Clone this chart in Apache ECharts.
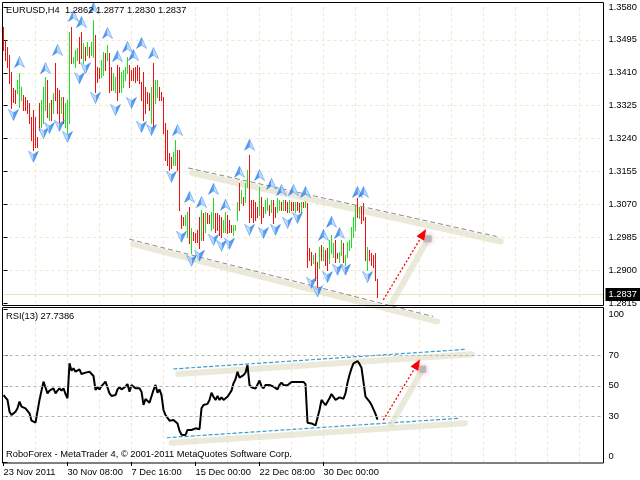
<!DOCTYPE html>
<html>
<head>
<meta charset="utf-8">
<script src="https://cdn.jsdelivr.net/npm/echarts@6.0.0/dist/echarts.min.js"></script>
<style>
html,body{margin:0;padding:0;background:#fff;}
#chart{width:640px;height:480px;}
</style>
</head>
<body>
<div id="chart"></div>
<script>
const symbolName = 'EURUSD,H4';
const quote = [1.2862, 1.2877, 1.2830, 1.2837];
const timeLabels = ['23 Nov 2011', '30 Nov 08:00', '7 Dec 16:00', '15 Dec 00:00', '22 Dec 08:00', '30 Dec 00:00'];
const timeLabelStep = 32;
const priceMin = 1.2815, priceMax = 1.3580, priceStep = 0.0085;
const rsiLabels = [0, 30, 50, 70, 100];
const rsiLevels = [30, 50, 70];
const rsiPeriod = 13;
const copyright = 'RoboForex - MetaTrader 4, \u00a9 2001-2011 MetaQuotes Software Corp.';

const barHigh = [1.3528,1.3495,1.3477,1.3456,1.3412,1.3371,1.3366,1.3391,1.3409,1.3373,
 1.3353,1.3348,1.3340,1.3332,1.3296,1.3314,1.3296,1.3244,1.3332,1.3340,
 1.3373,1.3399,1.3391,1.3332,1.3340,1.3358,1.3435,1.3371,1.3366,1.3348,
 1.3348,1.3332,1.3340,1.3515,1.3528,1.3451,1.3469,1.3474,1.3503,1.3515,
 1.3487,1.3477,1.3490,1.3477,1.3490,1.3546,1.3508,1.3425,1.3422,1.3443,
 1.3464,1.3461,1.3482,1.3461,1.3425,1.3409,1.3399,1.3430,1.3425,1.3412,
 1.3417,1.3425,1.3451,1.3430,1.3417,1.3422,1.3425,1.3430,1.3425,1.3386,
 1.3412,1.3373,1.3360,1.3358,1.3373,1.3435,1.3391,1.3391,1.3373,1.3360,
 1.3348,1.3280,1.3262,1.3203,1.3193,1.3205,1.3236,1.3211,1.3211,1.3043,
 1.3037,1.3043,1.3050,1.3063,1.3009,1.2999,1.2996,1.3004,1.3037,1.3056,
 1.3048,1.3050,1.3048,1.3043,1.3050,1.3087,1.3048,1.3048,1.3043,1.3037,
 1.3030,1.3050,1.3043,1.3030,1.3017,1.3017,1.3017,1.3076,1.3125,1.3107,
 1.3089,1.3125,1.3159,1.3198,1.3081,1.3081,1.3076,1.3063,1.3115,1.3089,
 1.3063,1.3081,1.3087,1.3069,1.3081,1.3081,1.3063,1.3087,1.3081,1.3076,
 1.3081,1.3081,1.3076,1.3081,1.3076,1.3076,1.3076,1.3076,1.3074,1.3076,
 1.3076,1.3079,1.3074,1.2957,1.2947,1.2939,1.2944,1.2921,1.2960,1.2965,
 1.2960,1.2952,1.2957,1.2978,1.2991,1.2970,1.2978,1.2944,1.2947,1.2978,
 1.2970,1.2939,1.2973,1.2978,1.3012,1.3037,1.3069,1.3087,1.3063,1.3063,
 1.3074,1.3037,1.2960,1.2952,1.2944,1.2939,1.2944,1.2877];

const barLow = [1.3469,1.3443,1.3425,1.3384,1.3319,1.3335,1.3332,1.3358,1.3322,1.3340,
 1.3314,1.3314,1.3306,1.3280,1.3236,1.3211,1.3218,1.3218,1.3262,1.3270,
 1.3280,1.3314,1.3296,1.3288,1.3288,1.3306,1.3340,1.3306,1.3283,1.3306,
 1.3280,1.3270,1.3254,1.3280,1.3435,1.3435,1.3425,1.3443,1.3435,1.3448,
 1.3435,1.3443,1.3456,1.3451,1.3456,1.3451,1.3360,1.3386,1.3397,1.3399,
 1.3404,1.3417,1.3443,1.3360,1.3366,1.3366,1.3360,1.3340,1.3360,1.3360,
 1.3373,1.3391,1.3409,1.3373,1.3391,1.3391,1.3386,1.3391,1.3384,1.3340,
 1.3288,1.3306,1.3332,1.3314,1.3280,1.3270,1.3332,1.3348,1.3340,1.3340,
 1.3254,1.3185,1.3172,1.3159,1.3164,1.3172,1.3172,1.3159,1.3056,1.3009,
 1.3017,1.3017,1.2986,1.2970,1.2944,1.2978,1.2973,1.2973,1.2957,1.2978,
 1.2978,1.2999,1.3022,1.3022,1.3004,1.3009,1.2999,1.3004,1.2991,1.2986,
 1.2999,1.2999,1.2996,1.2999,1.2999,1.2991,1.3004,1.3030,1.3056,1.3074,
 1.3069,1.3076,1.3115,1.3025,1.3037,1.3025,1.3030,1.3037,1.3043,1.3022,
 1.3037,1.3048,1.3056,1.3043,1.3050,1.3022,1.3037,1.3050,1.3056,1.3056,
 1.3056,1.3056,1.3050,1.3050,1.3056,1.3056,1.3050,1.3056,1.3050,1.3050,
 1.3063,1.3063,1.2908,1.2926,1.2913,1.2919,1.2875,1.2857,1.2906,1.2926,
 1.2926,1.2913,1.2901,1.2919,1.2944,1.2934,1.2921,1.2931,1.2921,1.2939,
 1.2921,1.2913,1.2934,1.2952,1.2960,1.2986,1.3004,1.3037,1.3035,1.3022,
 1.3030,1.2926,1.2901,1.2926,1.2913,1.2908,1.2875,1.2830];

const barUp = [0,0,0,0,0,0,0,1,1,1,
 0,0,0,0,0,0,0,0,0,1,
 1,1,0,1,0,1,0,0,0,1,
 0,1,1,1,0,1,1,1,0,0,
 1,0,1,0,1,1,0,0,0,1,
 1,0,1,0,0,1,1,0,0,1,
 1,1,1,0,0,0,0,0,0,0,
 0,0,0,0,1,0,1,1,0,0,
 0,0,0,0,0,1,1,0,0,0,
 0,1,1,0,1,0,0,0,0,1,
 0,1,0,0,1,1,0,0,0,0,
 1,1,0,0,0,1,1,1,0,1,
 0,1,1,0,0,0,0,0,1,0,
 0,1,1,0,1,0,0,1,1,0,
 1,0,0,1,0,0,1,0,0,1,
 0,1,0,0,0,1,0,0,1,0,
 1,0,0,1,1,1,0,0,1,1,
 0,1,1,1,1,1,1,0,1,0,
 0,0,1,0,0,0,0,0];

const rsi = [43.9,43.3,40.7,33.0,30.8,30.2,33.0,35.2,39.6,36.3,
 36.3,35.2,34.5,31.9,27.1,25.8,25.8,26.0,40.7,46.8,
 52.7,52.7,45.0,46.8,47.2,48.3,45.0,46.8,48.3,46.8,
 48.3,44.6,41.8,64.7,59.9,61.4,59.2,60.3,60.7,57.7,
 58.1,58.6,58.6,59.2,60.3,56.4,47.2,49.0,47.6,49.8,
 49.8,52.7,53.4,45.0,43.3,42.8,43.9,47.6,49.0,47.6,
 48.3,49.4,51.1,46.1,50.5,50.5,48.3,48.3,48.3,46.1,
 37.4,41.3,42.4,38.9,38.9,47.2,50.5,45.4,47.6,43.9,
 34.1,30.8,29.7,27.1,28.2,27.5,28.4,25.3,20.5,17.9,
 18.8,17.7,21.0,19.9,21.0,21.0,22.1,21.9,21.5,35.2,
 37.4,38.5,38.1,40.7,45.4,42.8,40.7,43.3,40.7,42.4,
 40.7,42.0,42.8,42.8,46.8,51.6,54.3,59.2,55.3,56.4,
 57.0,58.6,63.6,50.5,49.0,48.3,48.1,49.0,53.4,49.8,
 48.3,50.5,50.3,50.5,50.7,49.4,49.0,47.6,50.5,52.0,
 50.5,49.4,50.3,50.5,52.5,52.7,52.5,52.0,52.5,52.0,
 52.5,51.1,25.8,25.3,25.3,24.9,24.0,23.2,34.1,40.7,
 40.7,37.2,37.4,41.8,44.6,43.9,40.7,39.6,42.4,41.8,
 41.5,45.0,52.0,57.0,61.4,64.7,65.8,66.2,64.3,61.8,
 60.7,42.8,42.4,39.6,37.4,36.3,31.5,27.7386];

const upFractalIdx = [8,21,27,35,39,45,52,57,62,65,69,75,87,93,99,105,111,118,123,128,134,139,145,151,160,164,168,177,180];
const upFractalPrice = [1.3438,1.3422,1.3469,1.3557,1.3541,1.3577,1.3513,1.3453,1.3477,1.3456,1.3487,1.3461,1.3262,1.3089,1.3076,1.3110,1.3069,1.3154,1.3224,1.3146,1.3123,1.3107,1.3107,1.3102,1.2991,1.3025,1.2996,1.3102,1.3102];
const downFractalIdx = [5,15,20,23,28,32,38,41,46,56,64,69,74,84,89,94,98,105,109,113,123,130,136,142,147,154,157,162,167,171,182];
const downFractalPrice = [1.3301,1.3193,1.3254,1.3267,1.3273,1.3244,1.3396,1.3422,1.3345,1.3314,1.3332,1.3270,1.3262,1.3141,1.2986,1.2924,1.2937,1.2978,1.2963,1.2968,1.3004,1.2996,1.3004,1.3022,1.3035,1.2867,1.2845,1.2882,1.2901,1.2901,1.2882];

// trend lines: [x1, y1, x2, y2]
const mainChannel = [[92.3, 1.3164, 246.6, 1.2987], [62.9, 1.2980, 214.9, 1.2780]];
const rsiChannel = [[84.9, 61.0, 231.6, 73.9], [81.6, 15.9, 228.3, 28.7]];
// forecast arrows: [startX, startY, tipX, tipY, markerX, markerY]
const mainForecast = [[189.9, 1.2823, 211.3, 1.3006, 212.3, 1.2981]];
const rsiForecast = [[189.9, 27.5, 208.3, 67.3, 209.6, 60.8]];

const FONT = 'Liberation Sans';
const FS = 9.3;
const UP_COLOR = '#1fe01f', DOWN_COLOR = '#f01010';
const GRIDC = '#ece9cf';
const SHADOW = 'rgba(222,220,196,0.62)';

const chart = echarts.init(document.getElementById('chart'), null, {renderer: 'canvas'});

function bandRender(dx, dy) {
  return function (params, api) {
    const a = api.coord([api.value(0), api.value(1)]);
    const b = api.coord([api.value(2), api.value(3)]);
    return {type: 'line', shape: {x1: a[0] + dx, y1: a[1] + dy, x2: b[0] + dx, y2: b[1] + dy},
      style: {stroke: SHADOW, lineWidth: 6, lineCap: 'round'}};
  };
}
function trendRender(color, dash, width) {
  return function (params, api) {
    const a = api.coord([api.value(0), api.value(1)]);
    const b = api.coord([api.value(2), api.value(3)]);
    return {type: 'line', shape: {x1: a[0], y1: a[1], x2: b[0], y2: b[1]},
      style: {stroke: color, lineWidth: width, lineDash: dash}};
  };
}
function forecastRender(params, api) {
  const s = api.coord([api.value(0), api.value(1)]);
  const t = api.coord([api.value(2), api.value(3)]);
  const m = api.coord([api.value(4), api.value(5)]);
  const ang = Math.atan2(t[1] - s[1], t[0] - s[0]);
  const L = 11, W = 4.5;
  const bx = t[0] - L * Math.cos(ang), by = t[1] - L * Math.sin(ang);
  const px = -Math.sin(ang) * W, py = Math.cos(ang) * W;
  return {type: 'group', children: [
    {type: 'line', shape: {x1: s[0] + 8, y1: s[1] + 4, x2: m[0], y2: m[1]}, style: {stroke: SHADOW, lineWidth: 6, lineCap: 'round'}},
    {type: 'rect', shape: {x: m[0] - 3.5, y: m[1] - 3.5, width: 7, height: 7}, style: {fill: '#b8b8b8', shadowBlur: 5, shadowColor: 'rgba(240,150,175,0.9)'}},
    {type: 'line', shape: {x1: s[0], y1: s[1], x2: bx, y2: by}, style: {stroke: '#ff0000', lineWidth: 1.3, lineDash: [2, 2]}},
    {type: 'polygon', shape: {points: [[t[0], t[1]], [bx + px, by + py], [bx - px, by - py]]}, style: {fill: '#ff0000'}}
  ]};
}
function barRender(params, api) {
  const i = api.value(0);
  const a = api.coord([i, api.value(1)]);
  const b = api.coord([i, api.value(2)]);
  const x = Math.floor(a[0] + 0.01);
  const y1 = Math.round(a[1]), y2 = Math.round(b[1]) + 1;
  return {type: 'rect', shape: {x: x, y: y1, width: 1, height: y2 - y1},
    style: {fill: api.value(3) ? UP_COLOR : DOWN_COLOR}};
}

const barRows = barHigh.map((h, i) => [i, h, barLow[i], barUp[i]]);

const arrowPath = 'path://M5,0 L10,10 L5,7 L0,10 Z';
const arrowColor = {type: 'linear', x: 0, y: 0, x2: 1, y2: 0, colorStops: [
  {offset: 0, color: '#1766dc'}, {offset: 0.5, color: '#3a8ff2'},
  {offset: 0.5, color: '#9ccbff'}, {offset: 1, color: '#d6ebff'}]};

const textBase = {fontFamily: FONT, fontSize: FS, color: '#000', fontWeight: 'normal'};

const option = {
  animation: false,
  backgroundColor: '#fff',
  textStyle: {fontFamily: FONT},
  title: [
    {text: symbolName + '  ' + quote.map(v => v.toFixed(4)).join(' '), left: 6, top: 6, padding: 0, textStyle: textBase},
    {text: 'RSI(' + rsiPeriod + ') ' + rsi[rsi.length - 1].toFixed(4), left: 6, top: 312, padding: 0, textStyle: textBase},
    {text: copyright, left: 6, top: 450, padding: 0, textStyle: textBase}
  ],
  grid: [
    {left: 3.5, top: 7, width: 600, height: 296},
    {left: 3.5, top: 309.5, width: 600, height: 152.5}
  ],
  xAxis: [
    {gridIndex: 0, type: 'value', min: 0, max: 300, interval: 16,
      axisLine: {show: false}, axisTick: {show: false}, axisLabel: {show: false},
      splitLine: {show: true, showMinLine: false, showMaxLine: false, lineStyle: {color: GRIDC, type: [3, 3]}}},
    {gridIndex: 1, type: 'value', min: 0, max: 300, interval: timeLabelStep, position: 'bottom',
      axisLine: {show: false},
      axisTick: {show: true, length: 4, lineStyle: {color: '#000'},
        customValues: timeLabels.map((_, k) => k * timeLabelStep)},
      axisLabel: {show: true, margin: 6, align: 'left', ...textBase,
        customValues: timeLabels.map((_, k) => k * timeLabelStep),
        formatter: v => (v % timeLabelStep === 0 && timeLabels[v / timeLabelStep]) || ''},
      splitLine: {show: false}},
    {gridIndex: 1, type: 'value', min: 0, max: 300, interval: 16,
      axisLine: {show: false}, axisTick: {show: false}, axisLabel: {show: false},
      splitLine: {show: true, showMinLine: false, showMaxLine: false, lineStyle: {color: GRIDC, type: [3, 3]}}}
  ],
  yAxis: [
    {gridIndex: 0, type: 'value', position: 'right', min: priceMin, max: priceMax, interval: priceStep,
      axisLine: {show: false},
      axisTick: {show: true, length: 4, lineStyle: {color: '#000'}},
      axisLabel: {show: true, margin: 5, ...textBase, formatter: v => v.toFixed(4)},
      splitLine: {show: true, showMinLine: false, showMaxLine: false, lineStyle: {color: GRIDC, type: [3, 3]}}},
    {gridIndex: 1, type: 'value', position: 'right', min: 0, max: 100, interval: 10,
      axisLine: {show: false},
      axisTick: {show: true, length: 4, lineStyle: {color: '#000'}, customValues: rsiLabels},
      axisLabel: {show: true, margin: 5, ...textBase, customValues: rsiLabels,
        formatter: v => rsiLabels.indexOf(v) < 0 ? '' : (v === 100 ? '{t|100}' : (v === 0 ? '{b|0}' : String(v))),
        rich: {t: {...textBase, padding: [9, 0, 0, 0]}, b: {...textBase, padding: [0, 0, 12, 0]}}},
      splitLine: {show: false}}
  ],
  series: [
    // bid line with price box
    {type: 'custom', xAxisIndex: 0, yAxisIndex: 0, z: 2, silent: true, clip: false,
      data: [[0, quote[3]]], encode: {x: 0, y: 1},
      renderItem: function (params, api) {
        const cs = params.coordSys;
        const p = api.coord([0, api.value(1)]);
        const y = Math.round(p[1]) + 0.5;
        return {type: 'group', children: [
          {type: 'line', shape: {x1: cs.x, y1: y, x2: cs.x + cs.width, y2: y}, style: {stroke: '#e2e6bc', lineWidth: 1}},
          {type: 'rect', shape: {x: cs.x + cs.width + 2, y: y - 6.5, width: 40, height: 13}, style: {fill: '#000'}},
          {type: 'text', style: {x: cs.x + cs.width + 5, y: y, text: api.value(1).toFixed(4), fill: '#fff',
            font: FS + 'px "' + FONT + '"', verticalAlign: 'middle', align: 'left'}}
        ]};
      }},
    // main panel channel shadows
    {type: 'custom', xAxisIndex: 0, yAxisIndex: 0, z: 1, silent: true, clip: false,
      data: mainChannel, encode: {x: [0, 2], y: [1, 3]}, renderItem: bandRender(4, 5)},
    // OHLC bars (high-low lines, coloured by direction)
    {type: 'custom', name: 'bars', xAxisIndex: 0, yAxisIndex: 0, z: 3, clip: false, silent: true,
      data: barRows, encode: {x: 0, y: [1, 2]}, renderItem: barRender},
    // channel lines
    {type: 'custom', xAxisIndex: 0, yAxisIndex: 0, z: 4, silent: true, clip: false,
      data: mainChannel, encode: {x: [0, 2], y: [1, 3]}, renderItem: trendRender('#8c8a90', [5, 3], 1)},
    // up fractals
    {type: 'scatter', xAxisIndex: 0, yAxisIndex: 0, z: 5, clip: false, silent: true,
      symbol: arrowPath, symbolSize: [10, 11],
      itemStyle: {color: arrowColor, borderColor: '#2d7fe6', borderWidth: 0.6},
      data: upFractalIdx.map((x, k) => [x, upFractalPrice[k]])},
    // down fractals
    {type: 'scatter', xAxisIndex: 0, yAxisIndex: 0, z: 5, clip: false, silent: true,
      symbol: arrowPath, symbolSize: [10, 11], symbolRotate: 180,
      itemStyle: {color: arrowColor, borderColor: '#2d7fe6', borderWidth: 0.6},
      data: downFractalIdx.map((x, k) => [x, downFractalPrice[k]])},
    // forecast arrow main
    {type: 'custom', xAxisIndex: 0, yAxisIndex: 0, z: 6, silent: true, clip: false,
      data: mainForecast, encode: {x: [0, 2, 4], y: [1, 3, 5]}, renderItem: forecastRender},
    // RSI channel shadows
    {type: 'custom', xAxisIndex: 1, yAxisIndex: 1, z: 1, silent: true, clip: false,
      data: rsiChannel, encode: {x: [0, 2], y: [1, 3]}, renderItem: bandRender(5, 5)},
    // RSI line
    {type: 'line', name: 'RSI', xAxisIndex: 1, yAxisIndex: 1, z: 3, silent: true,
      symbol: 'none', lineStyle: {color: '#000', width: 2}, itemStyle: {color: '#000'},
      data: rsi.map((v, i) => [i, v]),
      markLine: {silent: true, symbol: 'none', animation: false, label: {show: false},
        lineStyle: {color: '#b4b4b4', type: [3, 3], width: 1},
        data: rsiLevels.map(v => ({yAxis: v}))}},
    // RSI channel lines
    {type: 'custom', xAxisIndex: 1, yAxisIndex: 1, z: 4, silent: true, clip: false,
      data: rsiChannel, encode: {x: [0, 2], y: [1, 3]}, renderItem: trendRender('#3a9dd2', [4, 2], 1.2)},
    // forecast arrow RSI
    {type: 'custom', xAxisIndex: 1, yAxisIndex: 1, z: 6, silent: true, clip: false,
      data: rsiForecast, encode: {x: [0, 2, 4], y: [1, 3, 5]}, renderItem: forecastRender}
  ],
  graphic: [
    {type: 'rect', silent: true, z: 100, shape: {x: 2.5, y: 2.5, width: 601, height: 303}, style: {fill: 'none', stroke: '#000', lineWidth: 1}},
    {type: 'rect', silent: true, z: 100, shape: {x: 2.5, y: 307.5, width: 601, height: 155.5}, style: {fill: 'none', stroke: '#000', lineWidth: 1}}
  ]
};
chart.setOption(option);
</script>
</body>
</html>
